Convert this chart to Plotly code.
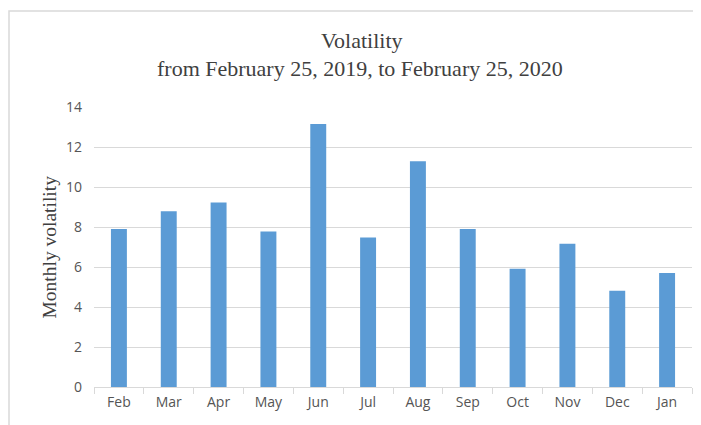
import plotly.graph_objects as go

months = ["Feb", "Mar", "Apr", "May", "Jun", "Jul", "Aug", "Sep", "Oct", "Nov", "Dec", "Jan"]
volatility = [7.90, 8.79, 9.22, 7.77, 13.15, 7.47, 11.29, 7.90, 5.91, 7.16, 4.81, 5.70]
y_ticks = [0, 2, 4, 6, 8, 10, 12, 14]

OFF = 8  # default body margin of the page
W, H = 701 - OFF, 425 - OFF
L, T = 94 - OFF, 107 - OFF
R = W - (692 - OFF)
B = H - (387 - OFF)
pw, ph = W - L - R, H - T - B

def px_x(p):
    return (p - OFF - L) / pw

def px_y(p):
    return (H - B - (p - OFF)) / ph

text_col = "#404040"
tick_col = "#555555"
serif = "Liberation Serif"

fig = go.Figure()
fig.add_trace(go.Bar(
    x=months, y=volatility,
    marker=dict(color="#5b9bd5", line=dict(width=0)),
))

fig.update_layout(
    width=W, height=H,
    margin=dict(l=L, r=R, t=T, b=B, pad=0),
    paper_bgcolor="white", plot_bgcolor="white",
    bargap=0.68,
    showlegend=False,
    xaxis=dict(
        type="category",
        tickson="boundaries", ticks="outside", ticklen=6, tickcolor="#d9d9d9",
        showline=True, linecolor="#d9d9d9", linewidth=1,
        showgrid=False,
        tickfont=dict(family="Open Sans", size=14, color=tick_col),
        ticklabelstandoff=2,
    ),
    yaxis=dict(
        range=[0, 14], tickvals=y_ticks,
        showgrid=True, gridcolor="#d9d9d9", gridwidth=1,
        zeroline=False, showline=False,
        tickfont=dict(family="Open Sans", size=14, color=tick_col),
        ticklabelstandoff=11,
    ),
    shapes=[dict(type="rect", xref="paper", yref="paper",
                 x0=px_x(9), x1=px_x(730), y0=px_y(450), y1=px_y(11),
                 line=dict(color="#d9d9d9", width=1.5), layer="below")],
    annotations=[
        dict(text="Volatility", xref="paper", yref="paper",
             x=px_x(361.5), y=px_y(41), xanchor="center", yanchor="middle",
             showarrow=False,
             font=dict(family=serif, size=22, color=text_col)),
        dict(text="from February 25, 2019, to February 25, 2020", xref="paper", yref="paper",
             x=px_x(360), y=px_y(68), xanchor="center", yanchor="middle",
             showarrow=False,
             font=dict(family=serif, size=22, color=text_col)),
        dict(text="Monthly volatility", xref="paper", yref="paper",
             x=px_x(49), y=px_y(247.5), xanchor="center", yanchor="middle",
             textangle=-90, showarrow=False,
             font=dict(family=serif, size=19.5, color=text_col)),
    ],
)

fig.write_html("out.html")
